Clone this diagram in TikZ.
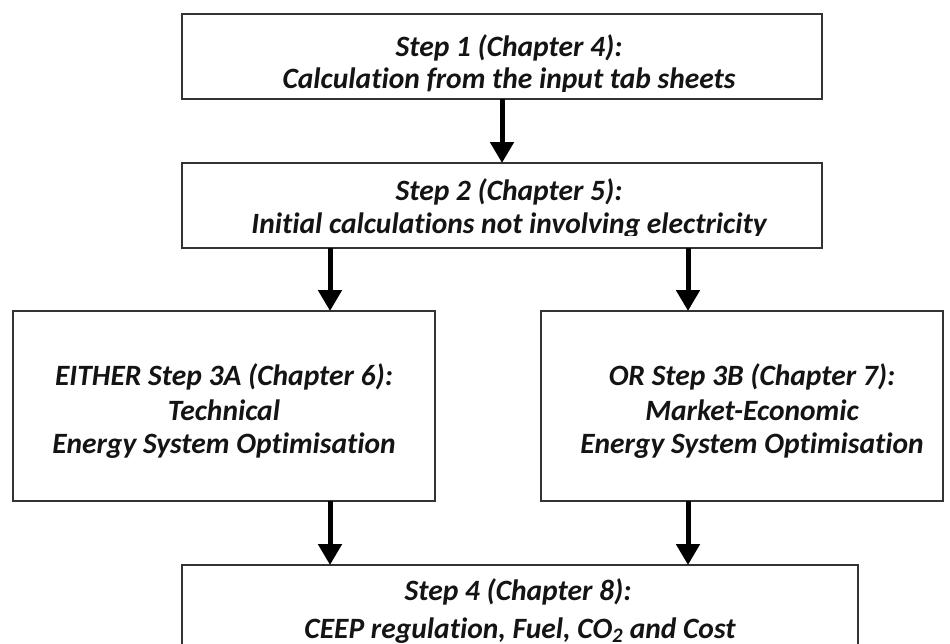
\documentclass[tikz,border=0pt]{standalone}
\usepackage{fontspec}
\setmainfont{Carlito}[Ligatures=NoCommon]
\usetikzlibrary{arrows.meta}
\begin{document}
\begin{tikzpicture}[x=1pt,y=-1pt,
  box/.style={draw=black!80, line width=1.8pt, inner sep=0pt, outer sep=0pt},
  txt/.style={font=\fontsize{29.5}{35}\selectfont\bfseries\itshape, text=black!92, anchor=base, inner sep=0pt},
  arr/.style={line width=5pt, -{Triangle[width=23pt,length=21pt]}}]
\useasboundingbox (0,0) rectangle (950,643);
\fill[white] (0,0) rectangle (950,643);
% boxes
\node[box, minimum width=640pt, minimum height=85pt] (s1) at (502,56.5) {};
\node[box, minimum width=640pt, minimum height=85pt] (s2) at (502,205.5) {};
\node[box, minimum width=422pt, minimum height=190pt] (s3a) at (224,406) {};
\node[box, minimum width=402pt, minimum height=190pt] (s3b) at (742,406) {};
\node[box, minimum width=676pt, minimum height=115pt] (s4) at (520,622.5) {};
% texts of step 1 and 2, cut just under the baseline as in the picture
\begin{scope}
  \clip (s1.north west) rectangle ([yshift=8pt]s1.south east);
  \node[txt] (t1a) at (509,56) {Step 1 (Chapter 4):};
  \node[txt] (t1b) at (509,88) {Calculation from the input tab sheets};
\end{scope}
\begin{scope}
  \clip (s2.north west) rectangle ([yshift=12.5pt]s2.south east);
  \node[txt] (t2a) at (509,200) {Step 2 (Chapter 5):};
  \node[txt] (t2b) at (509,233) {Initial calculations not involving electricity};
\end{scope}
\node[txt] (t3aa) at (224,385) {EITHER Step 3A (Chapter 6):};
\node[txt] (t3ab) at (224,420) {Technical};
\node[txt] (t3ac) at (224,453) {Energy System Optimisation};
\node[txt] (t3ba) at (752,385) {OR Step 3B (Chapter 7):};
\node[txt] (t3bb) at (752,420) {Market-Economic};
\node[txt] (t3bc) at (752,453) {Energy System Optimisation};
\node[txt] (t4a) at (518,600) {Step 4 (Chapter 8):};
\node[txt] (t4b) at (520,638) {CEEP regulation, Fuel, CO\textsubscript{2} and Cost};
% connectors
\coordinate (ca) at (330,0);
\coordinate (cb) at (688,0);
\draw[arr] (s1.south) -- (s2.north);
\draw[arr] (s2.south -| ca) -- (s3a.north -| ca);
\draw[arr] (s2.south -| cb) -- (s3b.north -| cb);
\draw[arr] (s3a.south -| ca) -- (s4.north -| ca);
\draw[arr] (s3b.south -| cb) -- (s4.north -| cb);
\end{tikzpicture}
\end{document}
